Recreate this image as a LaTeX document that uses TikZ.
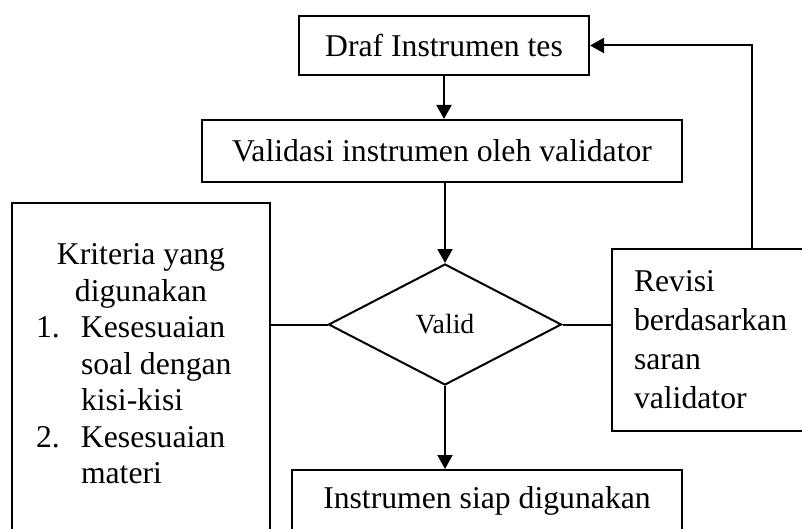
\documentclass[tikz,border=0pt]{standalone}
\usepackage{fontspec}
\setmainfont{Liberation Serif}
\usetikzlibrary{positioning,arrows.meta,shapes.geometric}
\newcommand{\bodyfont}{\fontsize{15.85}{18.25}\selectfont}
\tikzset{
  box/.style={draw,line width=1pt,inner sep=0pt,align=center,font=\bodyfont},
  decide/.style={draw,line width=1pt,diamond,inner sep=0pt,aspect=1.93,font=\fontsize{13.9}{16}\selectfont},
  arr/.style={-{Triangle[length=7pt,width=7.5pt]},line width=1pt},
  link/.style={line width=1pt},
}
\begin{document}
\begin{tikzpicture}[x=0.5pt,y=-0.5pt]
\useasboundingbox (0,0) rectangle (802,529);
\clip (0,0) rectangle (802,529);
\node[box,minimum width=145pt,minimum height=29.5pt] (draf) at (444,45.5) {Draf Instrumen tes};
\node[box,minimum width=240pt,minimum height=31pt] (vld) at (442,151) {Validasi instrumen oleh validator};
\node[decide,minimum width=116.5pt,minimum height=60.5pt] (dia) at (445,324.5) {Valid};
\node[box,anchor=north west] (krit) at (11,202) {\parbox[c][180pt][t]{129pt}{\vspace*{20.5pt}\hyphenpenalty=10000
  {\centering Kriteria yang\\digunakan\par}
  \raggedright\leftskip=34.5pt
  \noindent\llap{\makebox[22.5pt][l]{1.}}Kesesuaian soal dengan kisi-kisi\par
  \noindent\llap{\makebox[22.5pt][l]{2.}}Kesesuaian materi\par}};
\node[box,anchor=north west,align=left,text width=118pt,inner xsep=11pt,minimum height=91pt,font=\fontsize{15.85}{19.5}\selectfont] (rev) at (611,248) {Revisi\\berdasarkan\\saran\\validator};
\node[box,minimum width=195pt,minimum height=31pt] (inst) at (487,501) {Instrumen siap digunakan};
\draw[arr] (draf.south) -- (draf.south |- vld.north);
\draw[arr] (dia.north |- vld.south) -- (dia.north);
\draw[arr] (dia.south) -- (dia.south |- inst.north);
\draw[link] (dia.west) -- (dia.west -| krit.east);
\draw[link] (dia.east) -- (dia.east -| rev.west);
\draw[arr] (rev.north) |- (draf.east);
\end{tikzpicture}
\end{document}
